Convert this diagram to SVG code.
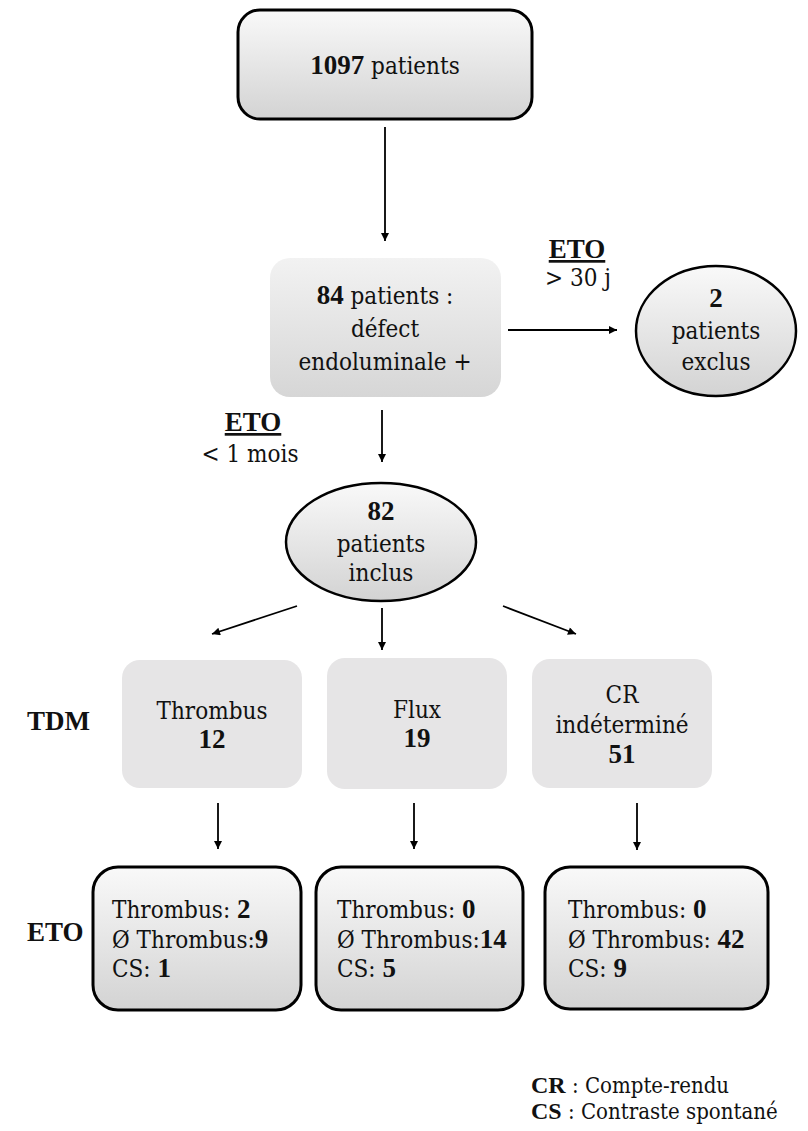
<svg xmlns="http://www.w3.org/2000/svg" width="808" height="1131" viewBox="0 0 808 1131">
<defs>
<linearGradient id="g1" x1="0" y1="0" x2="0" y2="1">
<stop offset="0" stop-color="#f9f9f9"/><stop offset="1" stop-color="#d3d3d3"/>
</linearGradient>
<linearGradient id="g2" x1="0" y1="0" x2="0" y2="1">
<stop offset="0" stop-color="#f2f2f2"/><stop offset="1" stop-color="#d6d6d6"/>
</linearGradient>
<marker id="ah" viewBox="0 0 10 10" refX="10" refY="5" markerWidth="9" markerHeight="8" markerUnits="userSpaceOnUse" orient="auto">
<path d="M0,0 L10,5 L0,10 z" fill="#000"/>
</marker>
<style>
text{font-family:'DejaVu Serif Condensed','DejaVu Serif',serif;font-stretch:condensed;font-size:24px;fill:#111;}
.t{text-anchor:middle;}
.b{font-family:'Liberation Serif',serif;font-weight:bold;font-stretch:normal;font-size:27px;}
.u{text-decoration:underline;}
.sb{fill:url(#g1);stroke:#000;stroke-width:3;}
.nb{fill:url(#g2);stroke:none;}
.fl{fill:#e6e5e6;stroke:none;}
.con{stroke:#000;stroke-width:1.8;fill:none;marker-end:url(#ah);}
</style>
</defs>
<g id="connectors">
<line class="con" x1="385" y1="127" x2="385" y2="241"/>
<line class="con" x1="508" y1="330" x2="617" y2="330"/>
<line class="con" x1="382" y1="410" x2="382" y2="462"/>
<line class="con" x1="297" y1="606" x2="212" y2="634"/>
<line class="con" x1="382" y1="608" x2="382" y2="650"/>
<line class="con" x1="503" y1="606" x2="576" y2="634"/>
<line class="con" x1="218" y1="803" x2="218" y2="849"/>
<line class="con" x1="414" y1="803" x2="414" y2="849"/>
<line class="con" x1="637" y1="803" x2="637" y2="850"/>
</g>
<g id="n1097">
<rect class="sb" x="238" y="10" width="294" height="109" rx="22"/>
<text class="t" x="385" y="74"><tspan class="b">1097</tspan> patients</text>
</g>
<g id="n84">
<rect class="nb" x="270" y="258" width="231" height="139" rx="20"/>
<text class="t" x="385" y="304"><tspan class="b">84</tspan> patients :</text>
<text class="t" x="385" y="337">défect</text>
<text class="t" x="385" y="370">endoluminale +</text>
</g>
<g id="lbl-eto1">
<text class="t b u" x="577" y="258">ETO</text>
<text class="t" x="578" y="286">&gt; 30 j</text>
</g>
<g id="nexclus">
<ellipse class="sb" cx="716" cy="331" rx="80" ry="65" style="stroke-width:2.5"/>
<text class="t b" x="716" y="307">2</text>
<text class="t" x="716" y="339">patients</text>
<text class="t" x="716" y="370">exclus</text>
</g>
<g id="lbl-eto2">
<text class="t b u" x="253" y="431">ETO</text>
<text class="t" x="250" y="462">&lt; 1 mois</text>
</g>
<g id="ninclus">
<ellipse class="sb" cx="381" cy="542" rx="95" ry="59" style="stroke-width:2.5"/>
<text class="t b" x="381" y="520">82</text>
<text class="t" x="381" y="552">patients</text>
<text class="t" x="381" y="581">inclus</text>
</g>
<g id="lbl-tdm">
<text class="b" x="27" y="730">TDM</text>
</g>
<g id="nthrombus">
<rect class="fl" x="122" y="660" width="180" height="128" rx="18"/>
<text class="t" x="212" y="719">Thrombus</text>
<text class="t b" x="212" y="748">12</text>
</g>
<g id="nflux">
<rect class="fl" x="327" y="658" width="180" height="131" rx="18"/>
<text class="t" x="417" y="718">Flux</text>
<text class="t b" x="417" y="747">19</text>
</g>
<g id="ncr">
<rect class="fl" x="532" y="659" width="180" height="129" rx="18"/>
<text class="t" x="622" y="703">CR</text>
<text class="t" x="622" y="733">indéterminé</text>
<text class="t b" x="622" y="763">51</text>
</g>
<g id="lbl-eto3">
<text class="b" x="27" y="941">ETO</text>
</g>
<g id="neto1">
<rect class="sb" x="93" y="867" width="208" height="143" rx="25"/>
<text x="112" y="918">Thrombus: <tspan class="b">2</tspan></text>
<text x="112" y="948">Ø Thrombus:<tspan class="b">9</tspan></text>
<text x="112" y="977">CS: <tspan class="b">1</tspan></text>
</g>
<g id="neto2">
<rect class="sb" x="316" y="867" width="207" height="143" rx="25"/>
<text x="337" y="918">Thrombus: <tspan class="b">0</tspan></text>
<text x="337" y="948">Ø Thrombus:<tspan class="b">14</tspan></text>
<text x="337" y="977">CS: <tspan class="b">5</tspan></text>
</g>
<g id="neto3">
<rect class="sb" x="545" y="867" width="223" height="142" rx="25"/>
<text x="568" y="918">Thrombus: <tspan class="b">0</tspan></text>
<text x="568" y="948">Ø Thrombus: <tspan class="b">42</tspan></text>
<text x="568" y="977">CS: <tspan class="b">9</tspan></text>
</g>
<g id="legend">
<text x="531" y="1093" style="font-size:22px"><tspan class="b" style="font-size:24px">CR</tspan> : Compte-rendu</text>
<text x="531" y="1119" style="font-size:22px"><tspan class="b" style="font-size:24px">CS</tspan> : Contraste spontané</text>
</g>
</svg>
